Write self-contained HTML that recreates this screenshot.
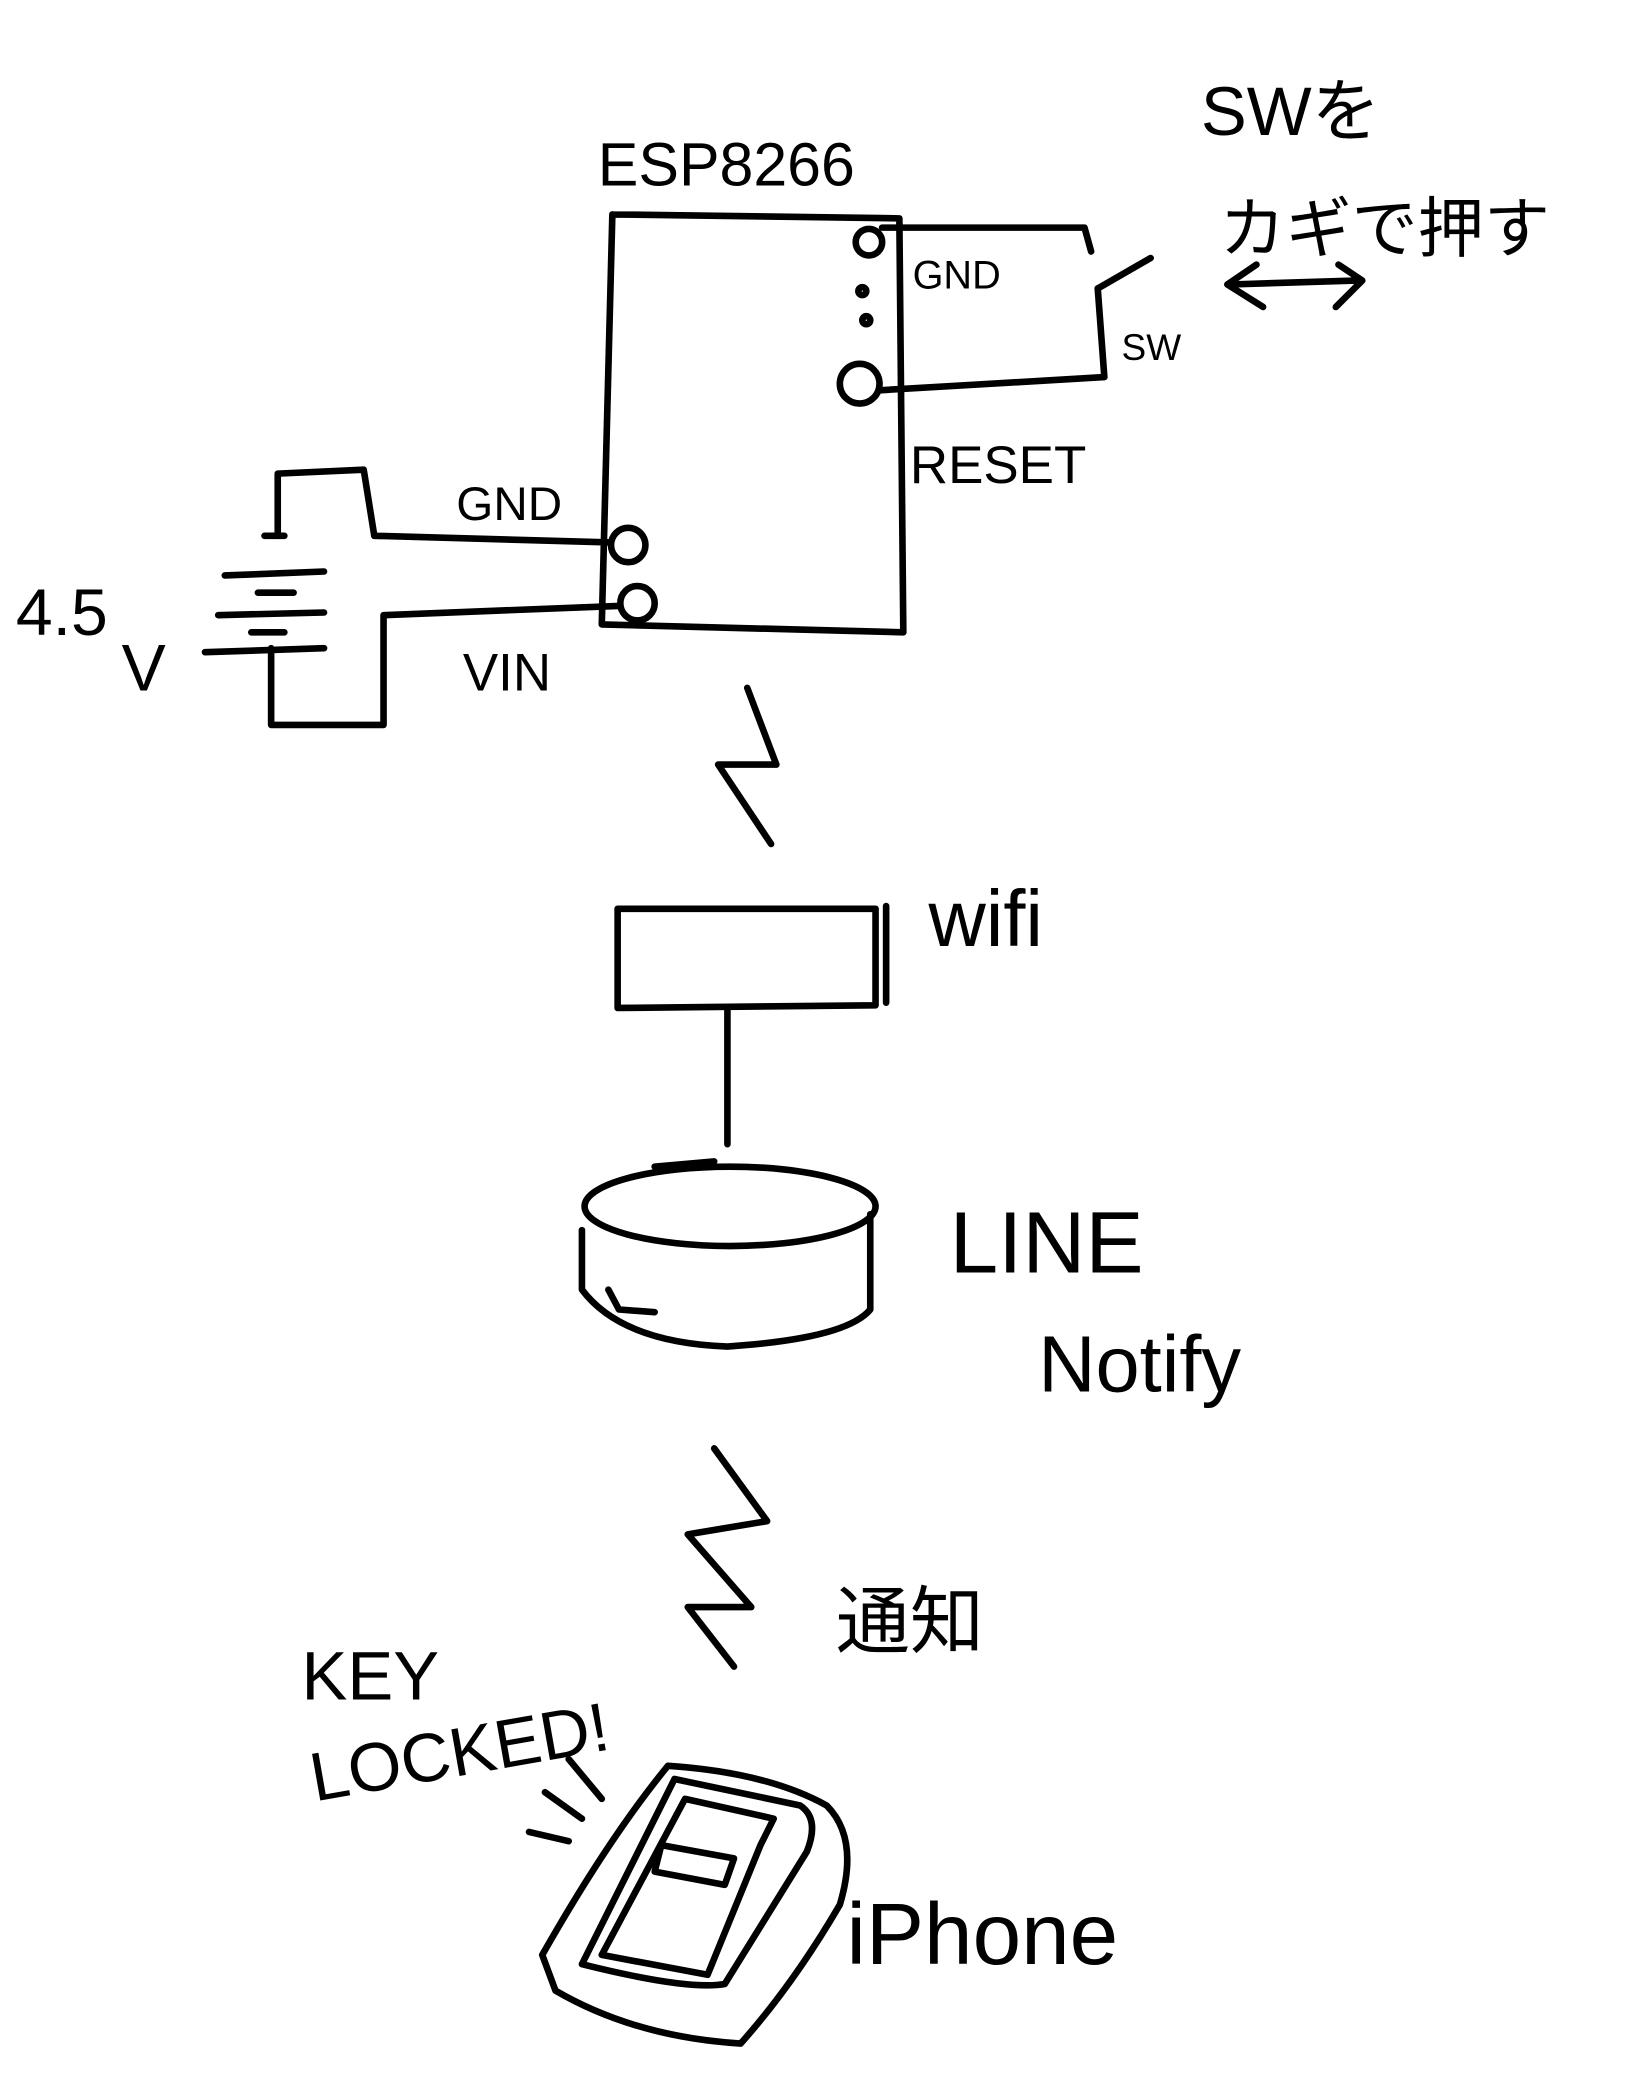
<!DOCTYPE html>
<html><head><meta charset="utf-8"><style>
html,body{margin:0;padding:0;background:#fff;}
svg{display:block;}
text{font-family:"Liberation Sans","Noto Sans CJK JP",sans-serif;fill:#000;}
</style></head><body>
<svg width="1640" height="2086" viewBox="0 0 1240 1577" xmlns="http://www.w3.org/2000/svg">
<g fill="none" stroke="#000" stroke-width="5" stroke-linecap="round" stroke-linejoin="round">
<!-- ESP box -->
<path d="M463,162 L680,165 L683,478 L455,472 L463,162"/>
<circle cx="657" cy="183" r="10"/>
<circle cx="652" cy="220" r="3"/>
<circle cx="655" cy="242" r="3"/>
<circle cx="650" cy="290" r="15"/>
<!-- switch wiring -->
<path d="M667,172 L820,172 L825,190"/>
<path d="M830,218 L870,195"/>
<path d="M830,218 L835,285 L665,295"/>
<!-- double arrow -->
<path d="M930,215 L1025,212 M950,200 L928,215 L955,232 M1012,200 L1030,212 L1010,232"/>
<!-- battery -->
<path d="M210,405 L210,358 L275,355 L283,405 L462,410"/>
<circle cx="475" cy="412" r="13"/>
<circle cx="482" cy="456" r="13"/>
<path d="M468,458 L290,465 L290,548 L205,548 L205,490"/>
<path d="M170,435 L245,432 M195,448 L222,448 M165,465 L245,463 M190,478 L215,478 M155,493 L245,490 M200,405 L215,405"/>
<!-- lightning 1 -->
<path d="M565,520 L587,578 L543,578 L583,638"/>
<!-- wifi box -->
<path d="M467,687 L662,687 L662,760 L467,762 Z M670,685 L670,758"/>
<path d="M550,762 L550,865"/>
<!-- cylinder -->
<ellipse cx="552" cy="912" rx="110" ry="30"/>
<path d="M440,930 L440,975 Q470,1015 550,1018 Q640,1012 658,990 L658,918"/>
<path d="M495,882 L540,878 M460,975 L468,990 L495,992"/>
<!-- lightning 2 -->
<path d="M540,1095 L580,1150 L520,1160 L568,1215 L520,1215 L555,1260"/>
<!-- phone -->
<path d="M505,1335 Q580,1340 625,1365 Q650,1390 635,1440 Q600,1500 560,1545 Q480,1540 420,1505 L410,1478 Q460,1390 505,1335 Z"/>
<path d="M510,1345 L605,1365 Q620,1375 610,1400 L548,1500 Q520,1505 440,1485 Z"/>
<path d="M518,1360 L585,1375 L575,1395 L535,1493 L455,1478 Z"/>
<path d="M500,1395 L555,1405 L548,1425 L495,1415 Z"/>
<!-- vibration -->
<path d="M430,1330 L455,1360 M412,1355 L440,1375 M400,1385 L430,1392"/>
</g>
<g font-size="44">
<text x="452" y="140" font-size="46">ESP8266</text>
<text x="690" y="218" font-size="30">GND</text>
<text x="848" y="272" font-size="28">SW</text>
<text x="688" y="365" font-size="40">RESET</text>
<text x="908" y="102" font-size="52">SWを</text>
<text x="922" y="190" font-size="50">カギで押す</text>
<text x="345" y="393" font-size="36">GND</text>
<text x="350" y="522" font-size="40">VIN</text>
<text x="12" y="480" font-size="50">4.5</text>
<text x="92" y="522" font-size="50">V</text>
<text x="702" y="715" font-size="60">wifi</text>
<text x="718" y="962" font-size="66">LINE</text>
<text x="785" y="1052" font-size="60">Notify</text>
<text x="632" y="1245" font-size="56">通知</text>
<text x="228" y="1285" font-size="52">KEY</text>
<text x="238" y="1362" font-size="52" transform="rotate(-10 238 1362)">LOCKED!</text>
<text x="640" y="1485" font-size="66">iPhone</text>
</g>
</svg>
</body></html>
